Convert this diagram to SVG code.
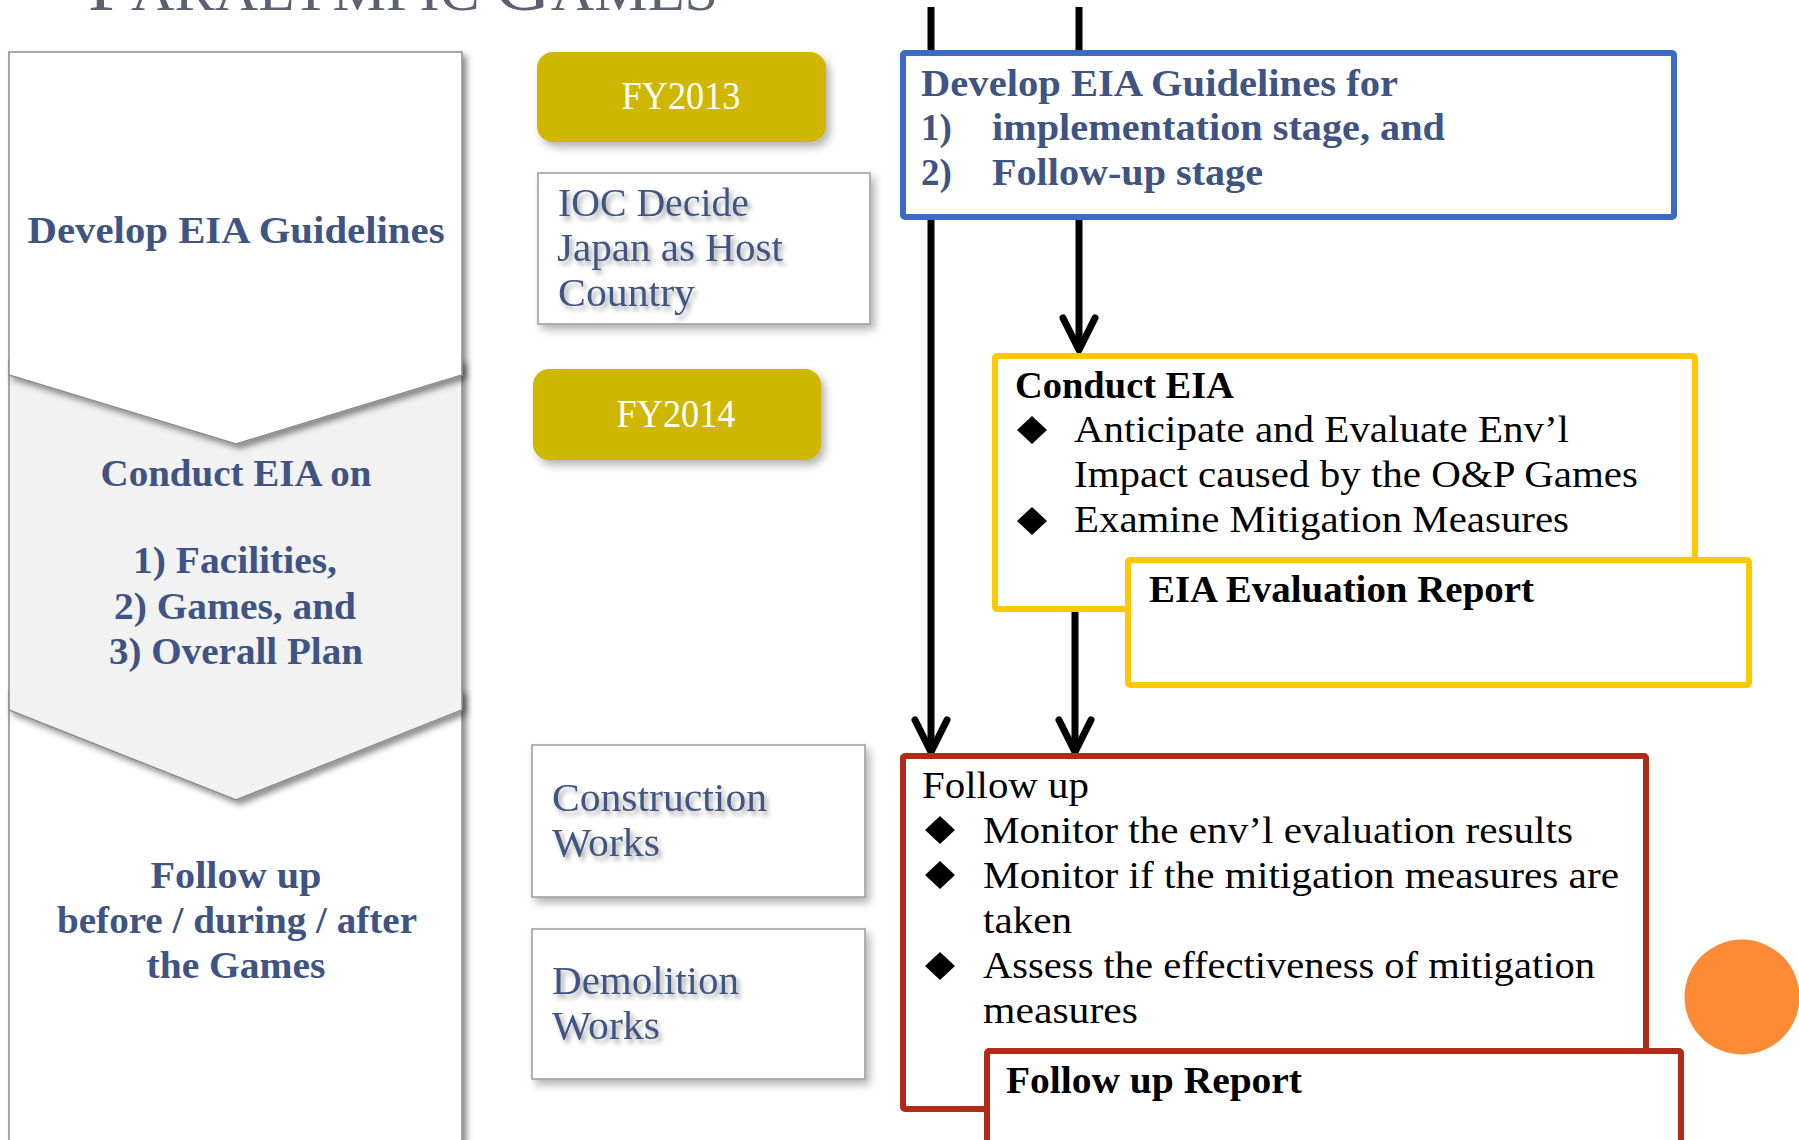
<svg xmlns="http://www.w3.org/2000/svg" width="1799" height="1140" viewBox="0 0 1799 1140">
<defs>
<style>
.serif{font-family:"Liberation Serif","Times New Roman",serif;}
.lbl{font-family:"Liberation Serif",serif;font-size:38px;font-weight:bold;fill:#3f5482;text-anchor:middle;}
.fy{font-family:"Liberation Serif",serif;font-size:39px;fill:#ffffff;text-anchor:middle;}
.tl{font-family:"Liberation Serif",serif;font-size:39px;fill:#3f5482;}
.bl{font-family:"Liberation Serif",serif;font-size:37px;font-weight:bold;fill:#3f5482;}
.bk{font-family:"Liberation Serif",serif;font-size:38px;fill:#000000;}
.bkb{font-family:"Liberation Serif",serif;font-size:38px;font-weight:bold;fill:#000000;}
.panel{stroke:#8c8c8c;stroke-width:1.5;}
.gbox{fill:#ffffff;stroke:#9a9a9a;stroke-width:1.5;}
.fybox{fill:#cfb700;}
.conn{stroke:#000000;stroke-width:7;fill:none;}
</style>
<filter id="sh" x="-10%" y="-10%" width="125%" height="130%">
<feDropShadow dx="4" dy="4" stdDeviation="3" flood-color="#000" flood-opacity="0.45"/>
</filter>
<filter id="bsh" x="-10%" y="-10%" width="125%" height="130%">
<feDropShadow dx="4" dy="5" stdDeviation="4" flood-color="#000" flood-opacity="0.3"/>
</filter>
<filter id="tsh" x="-10%" y="-20%" width="130%" height="160%">
<feDropShadow dx="3" dy="4" stdDeviation="2.5" flood-color="#000" flood-opacity="0.35"/>
</filter>
<marker id="arr" markerUnits="userSpaceOnUse" viewBox="-40 -24 50 48" markerWidth="50" markerHeight="48" refX="0" refY="0" orient="auto">
<path d="M-28,-16 L4,0 L-28,16" fill="none" stroke="#000" stroke-width="7" stroke-linecap="round" stroke-linejoin="round"/>
</marker>
</defs>
<rect width="1799" height="1140" fill="#ffffff"/>

<g id="title">
<text class="serif" x="88" y="10" font-size="56" fill="#5b6170" textLength="630" lengthAdjust="spacingAndGlyphs"><tspan font-size="72">P</tspan>ARALYMPIC <tspan font-size="72">G</tspan>AMES</text>
</g>

<g id="left-panel">
<g id="stage-followup">
<rect class="panel" x="9" y="690" width="453" height="470" fill="#ffffff" filter="url(#sh)"/>
<text class="lbl" x="236" y="888" textLength="171" lengthAdjust="spacingAndGlyphs">Follow up</text>
<text class="lbl" x="237" y="933" textLength="360" lengthAdjust="spacingAndGlyphs">before / during / after</text>
<text class="lbl" x="236" y="978" textLength="179" lengthAdjust="spacingAndGlyphs">the Games</text>
</g>
<g id="stage-conduct">
<polygon class="panel" points="9,360 462,360 462,710 236,800 9,710" fill="#f2f2f2" filter="url(#sh)"/>
<text class="lbl" x="236" y="486" textLength="271" lengthAdjust="spacingAndGlyphs">Conduct EIA on</text>
<text class="lbl" x="235" y="573" textLength="204" lengthAdjust="spacingAndGlyphs">1) Facilities,</text>
<text class="lbl" x="235" y="619" textLength="242" lengthAdjust="spacingAndGlyphs">2) Games, and</text>
<text class="lbl" x="236" y="664" textLength="254" lengthAdjust="spacingAndGlyphs">3) Overall Plan</text>
</g>
<g id="stage-develop">
<polygon class="panel" points="9,52 462,52 462,375 236,444 9,375" fill="#ffffff" filter="url(#sh)"/>
<text class="lbl" x="236" y="243" textLength="417" lengthAdjust="spacingAndGlyphs">Develop EIA Guidelines</text>
</g>
</g>

<g id="fy2013">
<rect class="fybox" x="537" y="52" width="289" height="90" rx="16" filter="url(#bsh)"/>
<text class="fy" x="681" y="109" textLength="119" lengthAdjust="spacingAndGlyphs">FY2013</text>
</g>
<g id="ioc">
<rect class="gbox" x="538" y="173" width="332" height="151" filter="url(#bsh)"/>
<g filter="url(#tsh)">
<text class="tl" x="558" y="216" textLength="191" lengthAdjust="spacingAndGlyphs">IOC Decide</text>
<text class="tl" x="557" y="261" textLength="226" lengthAdjust="spacingAndGlyphs">Japan as Host</text>
<text class="tl" x="558" y="306" textLength="137" lengthAdjust="spacingAndGlyphs">Country</text>
</g>
</g>
<g id="fy2014">
<rect class="fybox" x="533" y="369" width="288" height="91" rx="16" filter="url(#bsh)"/>
<text class="fy" x="676" y="427" textLength="119" lengthAdjust="spacingAndGlyphs">FY2014</text>
</g>
<g id="construction">
<rect class="gbox" x="532" y="745" width="333" height="152" filter="url(#bsh)"/>
<g filter="url(#tsh)">
<text class="tl" x="552" y="811" textLength="215" lengthAdjust="spacingAndGlyphs">Construction</text>
<text class="tl" x="552" y="856" textLength="108" lengthAdjust="spacingAndGlyphs">Works</text>
</g>
</g>
<g id="demolition">
<rect class="gbox" x="532" y="929" width="333" height="150" filter="url(#bsh)"/>
<g filter="url(#tsh)">
<text class="tl" x="552" y="994" textLength="187" lengthAdjust="spacingAndGlyphs">Demolition</text>
<text class="tl" x="552" y="1039" textLength="108" lengthAdjust="spacingAndGlyphs">Works</text>
</g>
</g>

<g id="connectors">
<line class="conn" x1="931" y1="7" x2="931" y2="748" marker-end="url(#arr)"/>
<line class="conn" x1="1079" y1="7" x2="1079" y2="346" marker-end="url(#arr)"/>
<line class="conn" x1="1075" y1="612" x2="1075" y2="748" marker-end="url(#arr)"/>
</g>

<g id="guidelines">
<rect x="903" y="53" width="771" height="164" rx="2" fill="#ffffff" stroke="#3b6cc5" stroke-width="6"/>
<text class="bl" x="921" y="96" textLength="477" lengthAdjust="spacingAndGlyphs">Develop EIA Guidelines for</text>
<text class="bl" x="921" y="140">1)</text>
<text class="bl" x="992" y="140" textLength="453" lengthAdjust="spacingAndGlyphs">implementation stage, and</text>
<text class="bl" x="921" y="185">2)</text>
<text class="bl" x="992" y="185" textLength="271" lengthAdjust="spacingAndGlyphs">Follow-up stage</text>
</g>

<g id="conduct-eia">
<rect x="995" y="356" width="700" height="253" rx="2" fill="#ffffff" stroke="#ffc800" stroke-width="6"/>
<text class="bkb" x="1015" y="398" textLength="219" lengthAdjust="spacingAndGlyphs">Conduct EIA</text>
<polygon points="1032,416 1047,430 1032,444 1017,430" fill="#000"/>
<text class="bk" x="1074" y="442" textLength="495" lengthAdjust="spacingAndGlyphs">Anticipate and Evaluate Env’l</text>
<text class="bk" x="1074" y="487" textLength="564" lengthAdjust="spacingAndGlyphs">Impact caused by the O&amp;P Games</text>
<polygon points="1032,507 1047,521 1032,535 1017,521" fill="#000"/>
<text class="bk" x="1074" y="532" textLength="495" lengthAdjust="spacingAndGlyphs">Examine Mitigation Measures</text>
</g>

<g id="eia-report">
<rect x="1128" y="560" width="621" height="125" rx="2" fill="#ffffff" stroke="#ffc800" stroke-width="6"/>
<text class="bkb" x="1149" y="602" textLength="385" lengthAdjust="spacingAndGlyphs">EIA Evaluation Report</text>
</g>

<g id="follow-up">
<rect x="903" y="756" width="743" height="353" rx="2" fill="#ffffff" stroke="#b22b17" stroke-width="6"/>
<text class="bk" x="922" y="798" textLength="167" lengthAdjust="spacingAndGlyphs">Follow up</text>
<polygon points="940,816 955,830 940,844 925,830" fill="#000"/>
<text class="bk" x="983" y="843" textLength="590" lengthAdjust="spacingAndGlyphs">Monitor the env’l evaluation results</text>
<polygon points="940,861 955,875 940,889 925,875" fill="#000"/>
<text class="bk" x="983" y="888" textLength="636" lengthAdjust="spacingAndGlyphs">Monitor if the mitigation measures are</text>
<text class="bk" x="983" y="933" textLength="89" lengthAdjust="spacingAndGlyphs">taken</text>
<polygon points="940,952 955,966 940,980 925,966" fill="#000"/>
<text class="bk" x="983" y="978" textLength="612" lengthAdjust="spacingAndGlyphs">Assess the effectiveness of mitigation</text>
<text class="bk" x="983" y="1023" textLength="155" lengthAdjust="spacingAndGlyphs">measures</text>
</g>

<g id="followup-report">
<rect x="987" y="1051" width="694" height="110" rx="2" fill="#ffffff" stroke="#b22b17" stroke-width="6"/>
<text class="bkb" x="1006" y="1093" textLength="296" lengthAdjust="spacingAndGlyphs">Follow up Report</text>
</g>

<g id="decor">
<circle cx="1742" cy="997" r="57.5" fill="#fd8b36"/>
</g>
</svg>
